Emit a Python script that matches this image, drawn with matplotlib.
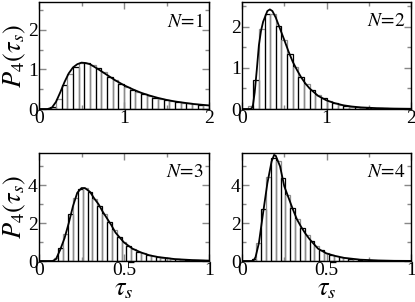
import matplotlib
matplotlib.use("Agg")
import matplotlib.pyplot as plt
from matplotlib.ticker import MultipleLocator

plt.rcParams['mathtext.fontset'] = 'stix'
plt.rcParams['font.family'] = ['Liberation Serif', 'DejaVu Serif']

# ---- data ----
labels = ["N=1", "N=2", "N=3", "N=4"]

# histogram bin edges
edges_1 = [i / 15 for i in range(31)]          # 0..2
edges_2 = [i / 15 for i in range(31)]          # 0..2
edges_3 = [i / 35 for i in range(36)]          # 0..1
edges_4 = [i / 35 for i in range(36)]          # 0..1

hist_1 = [0, 0, 0.05, 0.25, 0.6, 0.88, 1.05, 1.15, 1.16, 1.12, 1.03, 0.93,
          0.82, 0.72, 0.63, 0.56, 0.49, 0.43, 0.38, 0.33, 0.29, 0.26, 0.23,
          0.20, 0.18, 0.16, 0.14, 0.12, 0.11, 0.10]
hist_2 = [0, 0.08, 0.7, 1.95, 2.3, 2.3, 2.02, 1.68, 1.33, 1.02, 0.78, 0.6,
          0.45, 0.34, 0.26, 0.19, 0.14, 0.1, 0.08, 0.06, 0.045, 0.035, 0.028,
          0.022, 0.018, 0.014, 0.011, 0.009, 0.007, 0.005]
hist_3 = [0, 0, 0, 0.15, 0.7, 1.45, 2.5, 3.35, 3.8, 3.85, 3.65, 3.28, 2.92,
          2.48, 2.07, 1.65, 1.28, 1.0, 0.8, 0.63, 0.5, 0.41, 0.32, 0.26,
          0.21, 0.17, 0.14, 0.11, 0.09, 0.075, 0.06, 0.05, 0.04, 0.03, 0.02]
hist_4 = [0, 0, 0.12, 0.95, 2.75, 4.45, 5.45, 5.3, 4.4, 3.5, 2.8, 2.2, 1.75,
          1.38, 1.06, 0.78, 0.57, 0.42, 0.33, 0.26, 0.2, 0.16, 0.12, 0.09,
          0.07, 0.055, 0.04, 0.03, 0.025, 0.02, 0.015, 0.01, 0.008, 0.006, 0.005]

curve_x_1 = [0, 0.1, 0.15, 0.2, 0.25, 0.3, 0.35, 0.4, 0.45, 0.5, 0.55, 0.6, 0.7,
             0.8, 0.9, 1.0, 1.1, 1.2, 1.3, 1.4, 1.5, 1.6, 1.7, 1.8, 1.9, 2.0]
curve_y_1 = [0, 0.0, 0.03, 0.18, 0.42, 0.68, 0.9, 1.05, 1.13, 1.17, 1.16, 1.13,
             1.0, 0.86, 0.72, 0.6, 0.5, 0.41, 0.34, 0.28, 0.23, 0.19, 0.16,
             0.13, 0.11, 0.09]
curve_x_2 = [0, 0.1, 0.12, 0.13, 0.15, 0.175, 0.2, 0.225, 0.25, 0.3, 0.33, 0.36,
             0.4, 0.45, 0.5, 0.55, 0.6, 0.65, 0.7, 0.75, 0.8, 0.9, 1.0, 1.1,
             1.2, 1.3, 1.4, 1.6, 1.8, 2.0]
curve_y_2 = [0, 0, 0.03, 0.1, 0.4, 0.95, 1.55, 1.9, 2.12, 2.38, 2.42, 2.38,
             2.22, 1.95, 1.68, 1.4, 1.15, 0.95, 0.77, 0.62, 0.5, 0.32, 0.21,
             0.14, 0.09, 0.06, 0.04, 0.02, 0.01, 0.005]
curve_x_3 = [0, 0.08, 0.1, 0.125, 0.15, 0.175, 0.2, 0.225, 0.25, 0.27, 0.3,
             0.325, 0.35, 0.375, 0.4, 0.425, 0.45, 0.5, 0.55, 0.6, 0.65, 0.7,
             0.8, 0.9, 1.0]
curve_y_3 = [0, 0, 0.1, 0.6, 1.2, 2.0, 2.9, 3.6, 3.85, 3.85, 3.65, 3.3, 3.0,
             2.6, 2.25, 1.9, 1.5, 0.98, 0.65, 0.45, 0.3, 0.21, 0.1, 0.05, 0.02]
curve_x_4 = [0, 0.06, 0.07, 0.08, 0.1, 0.125, 0.15, 0.175, 0.19, 0.2, 0.225,
             0.25, 0.275, 0.3, 0.325, 0.35, 0.375, 0.4, 0.45, 0.5, 0.55, 0.6,
             0.7, 0.8, 0.9, 1.0]
curve_y_4 = [0, 0, 0.05, 0.2, 0.95, 2.55, 4.1, 5.25, 5.6, 5.55, 5.0, 3.95,
             3.35, 2.75, 2.2, 1.8, 1.45, 1.15, 0.65, 0.4, 0.27, 0.17, 0.07,
             0.03, 0.01, 0.005]

xlims = [2, 2, 1, 1]
ylims = [2.7, 2.6, 5.7, 5.7]
xmajor = [1, 1, 0.5, 0.5]
ymajor = [1, 1, 2, 2]
xticklabels = [["0", "1", "2"], ["0", "1", "2"], ["0", "0.5", "1"], ["0", "0.5", "1"]]
yticklabels = [["0", "1", "2"], ["0", "1", "2"], ["0", "2", "4"], ["0", "2", "4"]]

edges_all = [edges_1, edges_2, edges_3, edges_4]
hist_all = [hist_1, hist_2, hist_3, hist_4]
cx_all = [curve_x_1, curve_x_2, curve_x_3, curve_x_4]
cy_all = [curve_y_1, curve_y_2, curve_y_3, curve_y_4]

W, H = 415, 302
fig = plt.figure(figsize=(W / 100, H / 100), dpi=100)

boxes = [(39, 2, 209, 109), (242, 2, 411, 109), (39, 153, 209, 261), (242, 153, 411, 261)]

for k in range(4):
    l, t, r, b = boxes[k]
    ax = fig.add_axes([l / W, 1 - b / H, (r - l) / W, (b - t) / H])
    e = edges_all[k]
    h = hist_all[k]
    for i in range(len(h)):
        col = 'black' if i % 2 == 0 else '#8c8c8c'
        ax.bar(e[i], h[i], width=e[i + 1] - e[i], align='edge', facecolor='none',
               edgecolor=col, linewidth=0.9)
    ax.plot(cx_all[k], cy_all[k], color='black', lw=1.3)
    ax.set_xlim(0, xlims[k])
    ax.set_ylim(0, ylims[k])
    ax.xaxis.set_minor_locator(MultipleLocator(xmajor[k] / 2))
    ax.yaxis.set_minor_locator(MultipleLocator(ymajor[k] / 2))
    ax.set_xticks([xmajor[k] * j for j in range(3)])
    ax.set_xticklabels(xticklabels[k])
    ax.set_yticks([ymajor[k] * j for j in range(3)])
    ax.set_yticklabels(yticklabels[k])
    ax.tick_params(which='both', direction='in', top=True, right=True,
                   color='#888888', labelsize=14)
    ax.tick_params(axis='x', pad=1)
    ax.tick_params(axis='y', pad=1)
    ax.tick_params(which='major', length=5, width=1)
    ax.tick_params(which='minor', length=3, width=1)
    for s in ax.spines.values():
        s.set_linewidth(1.0)
    n = labels[k].split("=")[1]
    ax.text(0.97, 0.9, r'$N\!=\!' + n + '$', transform=ax.transAxes,
            ha='right', va='top', fontsize=14)
    if k % 2 == 0:
        ax.set_ylabel(r'$P_4(\tau_s)$', fontsize=19, labelpad=0)
    if k >= 2:
        ax.set_xlabel(r'$\tau_s$', fontsize=19, labelpad=0)

fig.savefig("out.png", dpi=100)
